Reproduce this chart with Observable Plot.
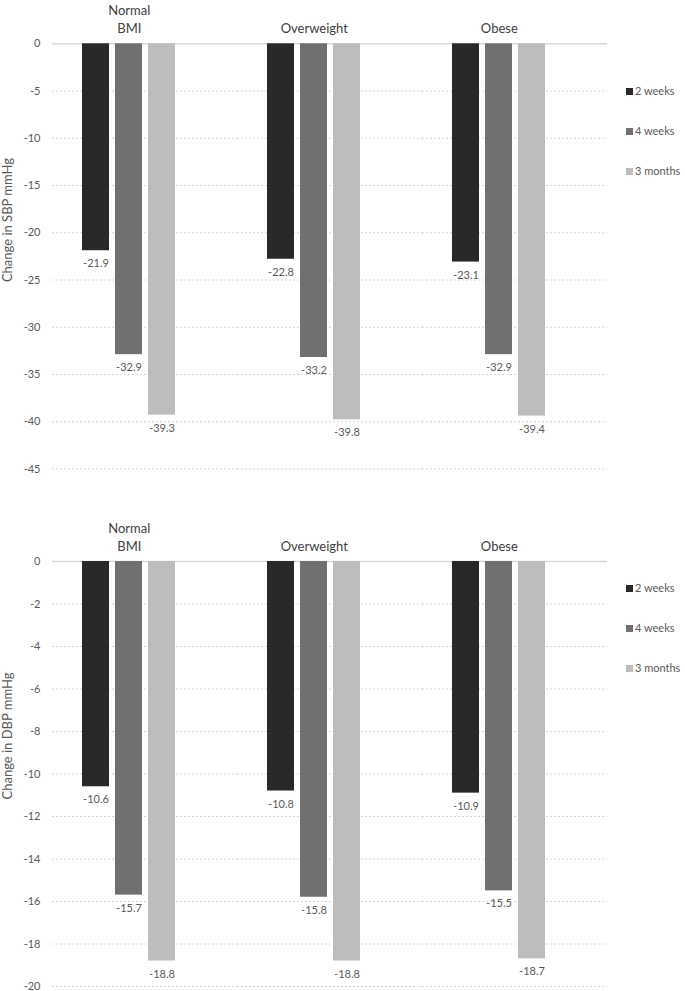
<!DOCTYPE html>
<html><head><meta charset="utf-8">
<script src="https://cdn.jsdelivr.net/npm/d3@7"></script>
<script src="https://cdn.jsdelivr.net/npm/@observablehq/plot@0.6"></script>
<style>
body{margin:0;background:#fff;font-family:Lato,"Open Sans",sans-serif;}
#wrap{position:relative;width:685px;height:991px;overflow:hidden;}
.panel{position:absolute;left:0;}
.ytitle{position:absolute;white-space:nowrap;font-size:13px;color:#595959;transform:translate(-50%,-50%) rotate(-90deg);}
.leg{position:absolute;left:626px;font-size:11px;color:#595959;white-space:nowrap;line-height:14px;transform:translateY(-50%);}
.leg span.sw{display:inline-block;width:7px;height:7px;margin-right:2px;vertical-align:0px;}
</style>
</head><body>
<div id="wrap"></div>
<script>
const categories = ["Normal\nBMI", "Overweight", "Obese"];
const series = ["2 weeks", "4 weeks", "3 months"];
const colors = ["#282828", "#707070", "#bdbdbd"];
// SBP change (mmHg) per series, in category order
const sbp2weeks = [-21.9, -22.8, -23.1];
const sbp4weeks = [-32.9, -33.2, -32.9];
const sbp3months = [-39.3, -39.8, -39.4];
// DBP change (mmHg)
const dbp2weeks = [-10.6, -10.8, -10.9];
const dbp4weeks = [-15.7, -15.8, -15.5];
const dbp3months = [-18.8, -18.8, -18.7];
const sbpTicks = [0, -5, -10, -15, -20, -25, -30, -35, -40, -45];
const dbpTicks = [0, -2, -4, -6, -8, -10, -12, -14, -16, -18, -20];

function panel(values, yDomain, yTicks, height, marginTop, marginBottom) {
  const data = categories.flatMap((c, i) => series.map((s, j) => ({category: c, series: s, value: values[j][i]})));
  return Plot.plot({
    width: 685, height, marginLeft: 52, marginRight: 78, marginTop, marginBottom,
    style: {fontFamily: "Lato, 'Open Sans', sans-serif", fontSize: "11px", color: "#595959", background: "transparent", overflow: "visible"},
    fx: {domain: categories, padding: 0, label: null},
    x: {domain: series, axis: null, paddingInner: 0.19, paddingOuter: 0, insetLeft: 30, insetRight: 61.4},
    y: {domain: yDomain, label: null},
    color: {domain: series, range: colors},
    marks: [
      Plot.gridY(yTicks.filter(t => t !== 0), {stroke: "#d6d6d6", strokeOpacity: 1, strokeDasharray: "2,2"}),
      Plot.ruleY([0], {stroke: "#d9d9d9", strokeWidth: 1.5}),
      Plot.axisY(yTicks, {tickSize: 0, tickPadding: 12, fill: "#595959", fontSize: 11, label: null, tickFormat: d => String(d)}),
      Plot.axisFx({anchor: "top", tickSize: 0, tickPadding: 11, dx: -15.7, fontSize: 13, fill: "#404040", lineHeight: 1.38, label: null}),
      Plot.barY(data, {fx: "category", x: "series", y: "value", fill: "series"}),
      Plot.text(data, {fx: "category", x: "series", y: "value", text: d => d.value.toFixed(1), dy: 13, fill: "#595959", fontSize: 11})
    ]
  });
}

const wrap = document.getElementById("wrap");
function place(el, top) { el.classList.add("panel"); el.style.top = top + "px"; wrap.appendChild(el); }
place(panel([sbp2weeks, sbp4weeks, sbp3months], [-45, 0], sbpTicks, 490, 43.3, 21.5), 0);
place(panel([dbp2weeks, dbp4weeks, dbp3months], [-20, 0], dbpTicks, 501, 71, 5), 490);

function title(text, cy) {
  const d = document.createElement("div");
  d.className = "ytitle"; d.textContent = text;
  d.style.left = "7px"; d.style.top = cy + "px";
  wrap.appendChild(d);
}
title("Change in SBP mmHg", 220);
title("Change in DBP mmHg", 736);

function legend(ys) {
  series.forEach((s, i) => {
    const d = document.createElement("div");
    d.className = "leg"; d.style.top = ys[i] + "px";
    const sw = document.createElement("span");
    sw.className = "sw"; sw.style.background = colors[i];
    d.appendChild(sw); d.appendChild(document.createTextNode(s));
    wrap.appendChild(d);
  });
}
legend([91, 131, 171]);
legend([588, 628, 668]);
</script>
</body></html>
